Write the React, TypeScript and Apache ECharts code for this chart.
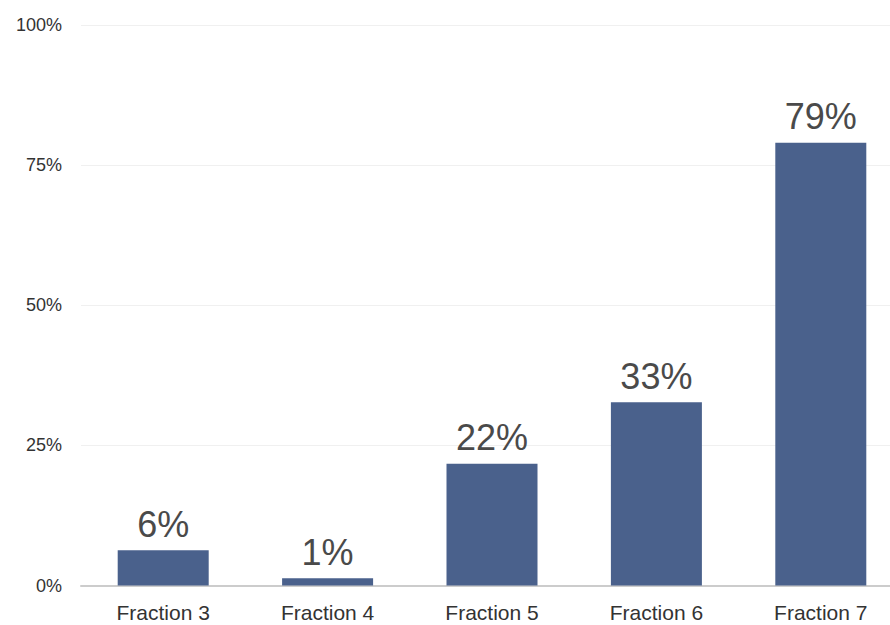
import React, { useEffect, useRef } from "react";
import * as echarts from "echarts";

const categories = ["Fraction 3", "Fraction 4", "Fraction 5", "Fraction 6", "Fraction 7"];
const values = [6.3, 1.3, 21.7, 32.7, 79];
const yTicks = [0, 25, 50, 75, 100];

export default function App() {
  const ref = useRef<HTMLDivElement>(null);
  useEffect(() => {
    if (!ref.current) return;
    const chart = echarts.init(ref.current, undefined, { renderer: "svg" });
    chart.setOption({
      animation: false,
      backgroundColor: "#ffffff",
      textStyle: { fontFamily: "Liberation Sans, Arial, sans-serif" },
      grid: { left: 81, top: 25, width: 822, height: 560.5, containLabel: false },
      xAxis: {
        type: "category",
        data: categories,
        axisLine: { show: true, lineStyle: { color: "#cccccc", width: 2 } },
        axisTick: { show: false },
        axisLabel: { color: "#333333", fontSize: 21, margin: 16 },
      },
      yAxis: {
        type: "value",
        min: yTicks[0],
        max: yTicks[yTicks.length - 1],
        interval: 25,
        axisLine: { show: false },
        axisTick: { show: false },
        splitLine: { lineStyle: { color: "#f0f0f0", width: 1 } },
        axisLabel: { color: "#333333", fontSize: 18, margin: 19, formatter: (v: number) => v + "%" },
      },
      series: [
        {
          type: "bar",
          data: values,
          barWidth: 91,
          itemStyle: { color: "#4a618c" },
          label: {
            show: true,
            position: "top",
            distance: 8,
            color: "#4a4a4a",
            fontSize: 36,
            formatter: (p: any) => Math.round(p.value) + "%",
          },
        },
      ],
    });
    return () => chart.dispose();
  }, []);
  return (
    <div style={{ position: "fixed", left: 0, top: 0, width: 890, height: 625, overflow: "hidden", background: "#fff" }}>
      <div ref={ref} style={{ width: 910, height: 625 }} />
    </div>
  );
}
